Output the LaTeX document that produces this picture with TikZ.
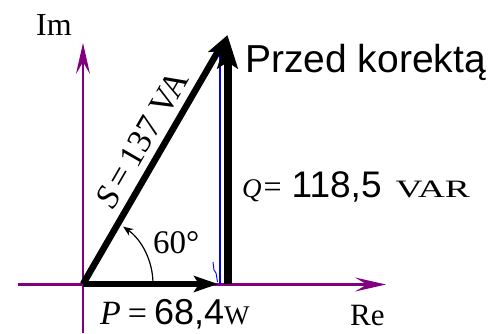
\documentclass[tikz,border=0pt]{standalone}
\usepackage{fontspec}
\setmainfont{Liberation Serif}
\newfontfamily\sansf{Liberation Sans}
\usepackage{graphicx}
\usetikzlibrary{arrows.meta}
\definecolor{axispurple}{RGB}{128,0,128}
\tikzset{
  axisline/.style={draw=axispurple, line width=2.5pt, -{Stealth[length=31pt,width=14pt,inset=12pt]}},
  phasor/.style={draw=black, line width=6.5pt, -{Stealth[length=24pt,width=16pt,inset=5pt]}},
  lbl/.style={inner sep=0pt, text=black},
}
\newcommand{\fs}[1]{\fontsize{#1}{#1}\selectfont}
\begin{document}
\begin{tikzpicture}[x=1pt,y=1pt]
\useasboundingbox (0,0) rectangle (492,333);
\coordinate (O) at (83,49);
\coordinate (Xl) at (18,48.5);
\coordinate (Xr) at (386,48.5);
\coordinate (Yb) at (83,0);
\coordinate (Yt) at (83,290);
\coordinate (Ptip) at (218,49);
\coordinate (Qb) at (227.5,49);
\coordinate (Stip) at (227.5,298);
\coordinate (B1) at (220,49);
\coordinate (B2) at (220,290);
\draw[axisline] (Xl) -- (Xr);
\draw[axisline] (Yb) -- (Yt);
\draw[blue, line width=1.3pt] (B1) -- (B2);
\draw[blue, line width=0.9pt] (213,71) -- (214,63) -- (216,60) -- (217.5,51);
\draw[phasor] (O) -- (Ptip);
\draw[phasor] (O) -- (Stip);
\draw[draw=black, line width=8pt, -{Stealth[length=33pt,width=20pt,inset=6pt]}] (Qb) -- (Stip);
\draw[line width=1.2pt, -{Stealth[length=10pt,width=8pt]}] (O) ++(70,0) arc[start angle=0, end angle=55, radius=70];
\node[lbl, anchor=base] (im) at (54,298) {\fs{32}Im};
\node[lbl, anchor=base west] (title) at (245,261) {\sansf\fs{39}Przed korektą};
\node[lbl, anchor=base west] (qlab) at (242,136) {\fs{27}\itshape Q\upshape\hspace{2pt}\fs{32}=\hspace{10pt}{\sansf\fs{37}118,5}\hspace{14pt}\fs{25}\scalebox{1.5}[1]{VAR}};
\node[lbl, anchor=base west] (plab) at (100,8.5) {\fs{34}\itshape P\upshape\hspace{7pt}=\hspace{7pt}{\sansf\fs{36}68,4}\fs{27}W};
\node[lbl, anchor=base west] (re) at (350,8) {\fs{31}Re};
\node[lbl, anchor=base west] (ang) at (153,80) {\fs{33}60°};
\node[lbl, rotate=60] (slab) at (142,194) {\fs{34}\textit{S}\,=\,137 VA};
\end{tikzpicture}
\end{document}
